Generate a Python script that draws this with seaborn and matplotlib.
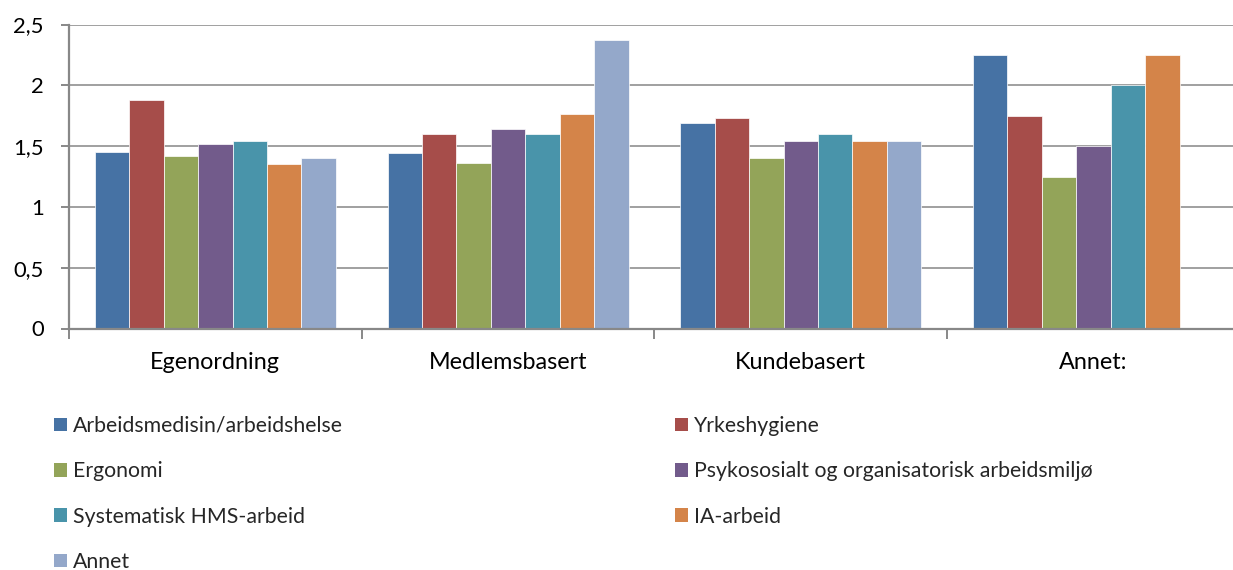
import numpy as np
import pandas as pd
import matplotlib
matplotlib.use("Agg")
import matplotlib.pyplot as plt
from matplotlib.patches import Patch
from matplotlib.ticker import FixedLocator, FuncFormatter
import seaborn as sns

# Categories, series and values
categories = ["Egenordning", "Medlemsbasert", "Kundebasert", "Annet:"]
series = [
    "Arbeidsmedisin/arbeidshelse",
    "Yrkeshygiene",
    "Ergonomi",
    "Psykososialt og organisatorisk arbeidsmiljø",
    "Systematisk HMS-arbeid",
    "IA-arbeid",
    "Annet",
]
arbeidsmedisin = [1.45, 1.44, 1.69, 2.25]
yrkeshygiene = [1.88, 1.60, 1.73, 1.75]
ergonomi = [1.42, 1.36, 1.40, 1.25]
psykososialt = [1.52, 1.64, 1.54, 1.50]
systematisk_hms = [1.54, 1.60, 1.60, 2.00]
ia_arbeid = [1.35, 1.76, 1.54, 2.25]
annet = [1.40, 2.37, 1.54, np.nan]

colors = ["#4672A4", "#A64D4A", "#93A459", "#725B8B", "#4994AA", "#D48449", "#94A8CA"]

values = [arbeidsmedisin, yrkeshygiene, ergonomi, psykososialt,
          systematisk_hms, ia_arbeid, annet]
rows = []
for name, vals in zip(series, values):
    for cat, v in zip(categories, vals):
        if not np.isnan(v):
            rows.append({"kategori": cat, "serie": name, "verdi": v})
df = pd.DataFrame(rows)

sns.set_style("white")
plt.rcParams["font.family"] = ["Lato", "DejaVu Sans"]
FS = 15.3

W, H = 1233, 570
fig = plt.figure(figsize=(W / 100, H / 100), dpi=100)
# Plot area: y axis at x=69 px, zero line at y=328.5 px, top at 24.5 px
cat_w = 292.7
ax = fig.add_axes([69 / W, (H - 328.5) / H, 4 * cat_w / W, 304 / H])

sns.barplot(
    data=df, x="kategori", y="verdi", hue="serie",
    order=categories, hue_order=series, palette=colors,
    saturation=1, errorbar=None, width=7 / 8.5, dodge=True,
    edgecolor="white", linewidth=0.5, ax=ax, legend=False, zorder=3,
)

ax.set_xlim(-0.5, 3.5)
ax.set_ylim(0, 2.5)
ax.set_xlabel("")
ax.set_ylabel("")

# y axis with comma decimals
ax.yaxis.set_major_locator(FixedLocator([0, 0.5, 1, 1.5, 2, 2.5]))
ax.yaxis.set_major_formatter(FuncFormatter(lambda v, p: f"{v:g}".replace(".", ",")))
ax.grid(axis="y", color="#A0A0A0", linewidth=1.4, zorder=0)
ax.set_axisbelow(True)

grey = "#888888"
for side in ["top", "right"]:
    ax.spines[side].set_visible(False)
for side in ["left", "bottom"]:
    ax.spines[side].set_color(grey)
    ax.spines[side].set_linewidth(1.6)
    ax.spines[side].set_zorder(4)

ax.tick_params(axis="y", which="major", direction="out", length=6, width=1.4,
               color=grey, pad=12, labelsize=15.8, labelcolor="black", left=True)
# category separators as minor ticks, labels on centred major ticks
ax.xaxis.set_minor_locator(FixedLocator([-0.5, 0.5, 1.5, 2.5, 3.5]))
ax.tick_params(axis="x", which="minor", direction="out", length=7, width=1.4,
               color=grey, bottom=True)
ax.tick_params(axis="x", which="major", length=0, pad=17, labelsize=16.8,
               labelcolor="black", bottom=True)

# legend in two columns, row by row
handles = [Patch(facecolor=c, edgecolor="none") for c in colors]
leg_kw = dict(frameon=False, fontsize=FS, handlelength=0.6, handleheight=0.6,
              handletextpad=0.3, labelspacing=1.19, borderaxespad=0, borderpad=0,
              loc="upper left")
left_idx = [0, 2, 4, 6]
right_idx = [1, 3, 5]
top = (H - 416) / H
leg1 = fig.legend([handles[i] for i in left_idx], [series[i] for i in left_idx],
                  bbox_to_anchor=(54 / W, top), **leg_kw)
leg2 = fig.legend([handles[i] for i in right_idx], [series[i] for i in right_idx],
                  bbox_to_anchor=(675 / W, top), **leg_kw)

fig.savefig("out.png", dpi=100)
